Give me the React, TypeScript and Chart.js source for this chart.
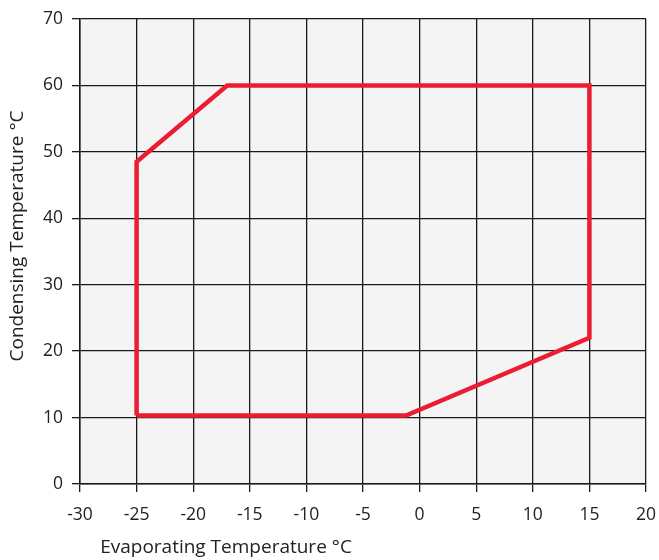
import React, { useEffect, useRef } from "react";
import { Chart, registerables } from "chart.js";

Chart.register(...registerables);

const envelopeX = [-25, -25, -17, 15, 15, -1.2, -25];
const envelopeY = [10.3, 48.5, 60, 60, 22, 10.3, 10.3];
const xTitle = "Evaporating Temperature °C";
const yTitle = "Condensing Temperature °C";
const xMin = -30, xMax = 20, xStep = 5;
const yMin = 0, yMax = 70, yStep = 10;

const FONT = "'Open Sans', sans-serif";

const bgPlugin = {
  id: "bgPlugin",
  beforeDraw(chart: any) {
    const { ctx, chartArea } = chart;
    ctx.save();
    ctx.fillStyle = "#f4f4f4";
    ctx.fillRect(chartArea.left, chartArea.top, chartArea.right - chartArea.left, chartArea.bottom - chartArea.top);
    ctx.restore();
  },
  afterDraw(chart: any) {
    const { ctx } = chart;
    ctx.save();
    ctx.fillStyle = "#222";
    ctx.font = `19px ${FONT}`;
    ctx.textAlign = "center";
    ctx.textBaseline = "middle";
    ctx.fillText(xTitle, 226, 548);
    ctx.translate(18, 236);
    ctx.rotate(-Math.PI / 2);
    ctx.fillText(yTitle, 0, 0);
    ctx.restore();
  },
};

export default function App() {
  const ref = useRef<HTMLCanvasElement>(null);
  useEffect(() => {
    document.body.style.margin = "0";
    const data = envelopeX.map((x, i) => ({ x, y: envelopeY[i] }));
    const chart = new Chart(ref.current!, {
      type: "scatter",
      data: {
        datasets: [
          {
            data,
            showLine: true,
            borderColor: "#ec1c33",
            borderWidth: 4.5,
            pointRadius: 0,
            borderJoinStyle: "miter",
            fill: false,
          },
        ],
      },
      plugins: [bgPlugin],
      options: {
        animation: false,
        responsive: false,
        layout: { padding: { top: 19, right: 13, left: 0, bottom: 0 } },
        plugins: { legend: { display: false }, tooltip: { enabled: false } },
        scales: {
          x: {
            type: "linear",
            min: xMin,
            max: xMax,
            afterFit: (s: any) => { s.height = 76; s.paddingRight = 0; s.paddingLeft = 0; },
            ticks: { stepSize: xStep, color: "#222", font: { family: FONT, size: 17.5 }, padding: 13 },
            grid: { color: "#1a1a1a", lineWidth: 1.3, tickLength: 8 },
            border: { color: "#1a1a1a", width: 1.5 },
          },
          y: {
            type: "linear",
            min: yMin,
            max: yMax,
            afterFit: (s: any) => { s.width = 80; s.paddingTop = 0; s.paddingBottom = 0; },
            ticks: { stepSize: yStep, color: "#222", font: { family: FONT, size: 17.5 }, padding: 9 },
            grid: { color: "#1a1a1a", lineWidth: 1.3, tickLength: 8 },
            border: { color: "#1a1a1a", width: 1.5 },
          },
        },
      },
    });
    return () => chart.destroy();
  }, []);
  return (
    <div style={{ width: 659, height: 560, background: "#fff" }}>
      <canvas ref={ref} width={659} height={560} />
    </div>
  );
}
